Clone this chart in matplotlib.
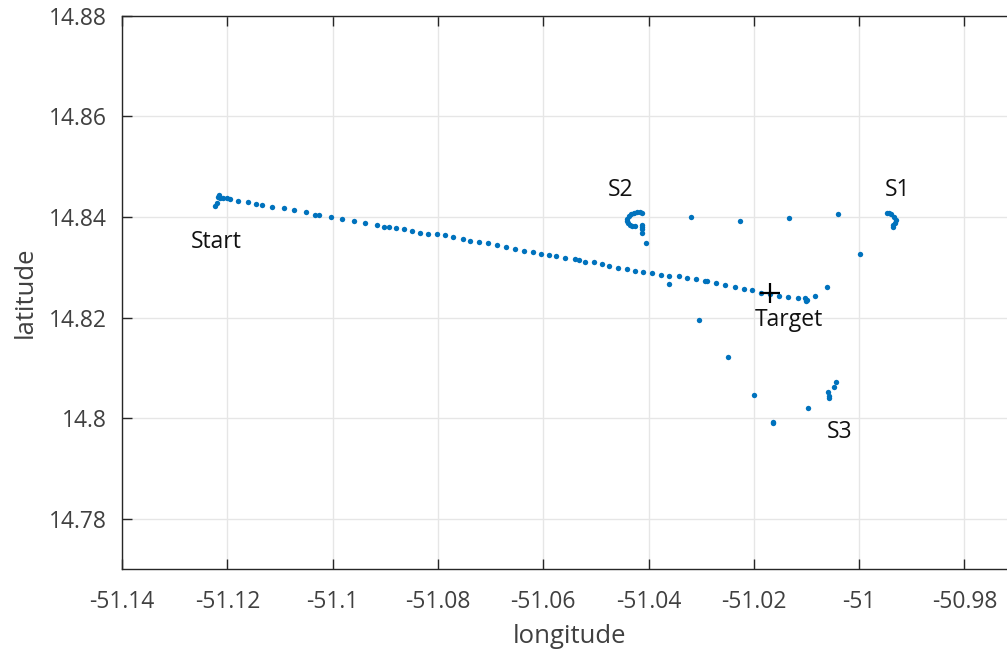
import matplotlib
matplotlib.use("Agg")
import matplotlib.pyplot as plt
import numpy as np

plt.rcParams["font.family"] = ["Open Sans", "DejaVu Sans"]

# vessel track from the start point towards the target
track_lon = [
    -51.12234, -51.12201, -51.12182, -51.12158, -51.12139, -51.12076, -51.12011,
    -51.11949, -51.11791, -51.11613, -51.11455, -51.11335, -51.11157, -51.10929,
    -51.10727, -51.10511, -51.10334, -51.10258, -51.10036, -51.09821, -51.09599,
    -51.09385, -51.09157, -51.09024, -51.08934, -51.08796, -51.08650, -51.08498,
    -51.08340, -51.08182, -51.08017, -51.07865, -51.07707, -51.07518, -51.07385,
    -51.07225, -51.07054, -51.06883, -51.06701, -51.06530, -51.06365, -51.06200,
    -51.06047, -51.05896, -51.05757, -51.05580, -51.05402, -51.05314, -51.05212,
    -51.05035, -51.04889, -51.04744, -51.04574, -51.04414, -51.04256, -51.04099,
    -51.03934, -51.03768, -51.03605, -51.03421, -51.03263, -51.03098, -51.02927,
    -51.02889, -51.02724, -51.02541, -51.02363, -51.02192, -51.02028, -51.01863,
    -51.01692, -51.01516, -51.01345, -51.01160, -51.01028, -51.00995, -51.01018,
    -51.00838, -51.00604,
]
track_lat = [
    14.84226, 14.84274, 14.84405, 14.84433, 14.84385, 14.84385, 14.84374,
    14.84360, 14.84320, 14.84294, 14.84266, 14.84240, 14.84206, 14.84181,
    14.84141, 14.84095, 14.84047, 14.84041, 14.84002, 14.83962, 14.83928,
    14.83876, 14.83836, 14.83809, 14.83803, 14.83783, 14.83753, 14.83717,
    14.83689, 14.83669, 14.83657, 14.83644, 14.83610, 14.83570, 14.83530,
    14.83504, 14.83484, 14.83445, 14.83405, 14.83365, 14.83325, 14.83299,
    14.83266, 14.83246, 14.83220, 14.83186, 14.83166, 14.83140, 14.83112,
    14.83097, 14.83067, 14.83033, 14.82993, 14.82961, 14.82933, 14.82907,
    14.82882, 14.82854, 14.82834, 14.82822, 14.82782, 14.82762, 14.82734,
    14.82722, 14.82683, 14.82643, 14.82603, 14.82575, 14.82543, 14.82496,
    14.82470, 14.82430, 14.82410, 14.82384, 14.82384, 14.82350, 14.82331,
    14.82424, 14.82599,
]

# fixes picked up near sensor S2
s2_lon = [
    -51.04161, -51.04218, -51.04275, -51.04332, -51.04380, -51.04408, -51.04414,
    -51.04399, -51.04361, -51.04313, -51.04266, -51.04118, -51.04118, -51.04118,
    -51.04118, -51.04118, -51.04053,
]
s2_lat = [
    14.84091, 14.84091, 14.84081, 14.84051, 14.84012, 14.83962, 14.83912,
    14.83872, 14.83838, 14.83823, 14.83817, 14.84087, 14.83842, 14.83803,
    14.83757, 14.83677, 14.83478,
]

# fixes picked up near sensor S1
s1_lon = [-50.99476, -50.99440, -50.99400, -50.99337, -50.99305, -50.99324,
          -50.99362, -50.99362]
s1_lat = [14.84087, 14.84075, 14.84061, 14.84007, 14.83942, 14.83888,
          14.83842, 14.83809]

# remaining scattered fixes, incl. the ones around S3
other_lon = [
    -51.03616, -51.03198, -51.02262, -51.01331, -51.00406, -50.99983, -51.03041,
    -51.02490, -51.01996, -51.01630, -51.01645, -51.00971, -51.00585, -51.00578,
    -51.00572, -51.00482, -51.00444,
]
other_lat = [
    14.82663, 14.84007, 14.83928, 14.83988, 14.84061, 14.83266, 14.81953,
    14.81223, 14.80461, 14.79910, 14.79924, 14.80202, 14.80528, 14.80440,
    14.80395, 14.80626, 14.80725,
]

target_lon, target_lat = -51.01692, 14.82490

label_text = ["Start", "S2", "S1", "Target", "S3"]
label_lon = [-51.12215, -51.04522, -50.99261, -51.01331, -51.00363]
label_lat = [14.83504, 14.84539, 14.84539, 14.81953, 14.79725]

fig = plt.figure(figsize=(10.07, 6.51), dpi=100)
ax = fig.add_axes([0.1212, 0.126, 0.8888, 0.8495])

blue = "#0072BD"
for lon, lat in [(track_lon, track_lat), (s2_lon, s2_lat),
                 (s1_lon, s1_lat), (other_lon, other_lat)]:
    ax.scatter(lon, lat, s=15, c=blue, linewidths=0, zorder=3)
ax.plot(target_lon, target_lat, marker="+", color="black", markersize=15,
        markeredgewidth=1.6, zorder=4)

for txt, x, y in zip(label_text, label_lon, label_lat):
    ax.text(x, y, txt, fontsize=16.5, color="#111111", ha="center", va="center")

ax.set_xlim(-51.14, -50.97)
ax.set_ylim(14.77, 14.88)
ax.set_xticks(np.arange(-51.14, -50.97, 0.02))
ax.set_xticklabels(["-51.14", "-51.12", "-51.1", "-51.08", "-51.06", "-51.04",
                    "-51.02", "-51", "-50.98"])
ax.set_yticks(np.arange(14.78, 14.881, 0.02))
ax.set_yticklabels(["14.78", "14.8", "14.82", "14.84", "14.86", "14.88"])

ax.grid(True, color="#e6e6e6", linewidth=1.0, zorder=0)
ax.set_axisbelow(True)

for side in ["left", "bottom", "top", "right"]:
    ax.spines[side].set_color("#262626")
    ax.spines[side].set_linewidth(1.0)

ax.tick_params(direction="in", length=7, width=1.0, color="#262626",
               labelsize=16.5, labelcolor="#404040", top=True, right=True)
ax.tick_params(axis="x", pad=15)
ax.tick_params(axis="y", pad=11)

ax.set_xlabel("longitude", fontsize=18.5, color="#404040", labelpad=7)
ax.set_ylabel("latitude", fontsize=18.5, color="#404040", labelpad=8)

fig.savefig("out.png", dpi=100)
